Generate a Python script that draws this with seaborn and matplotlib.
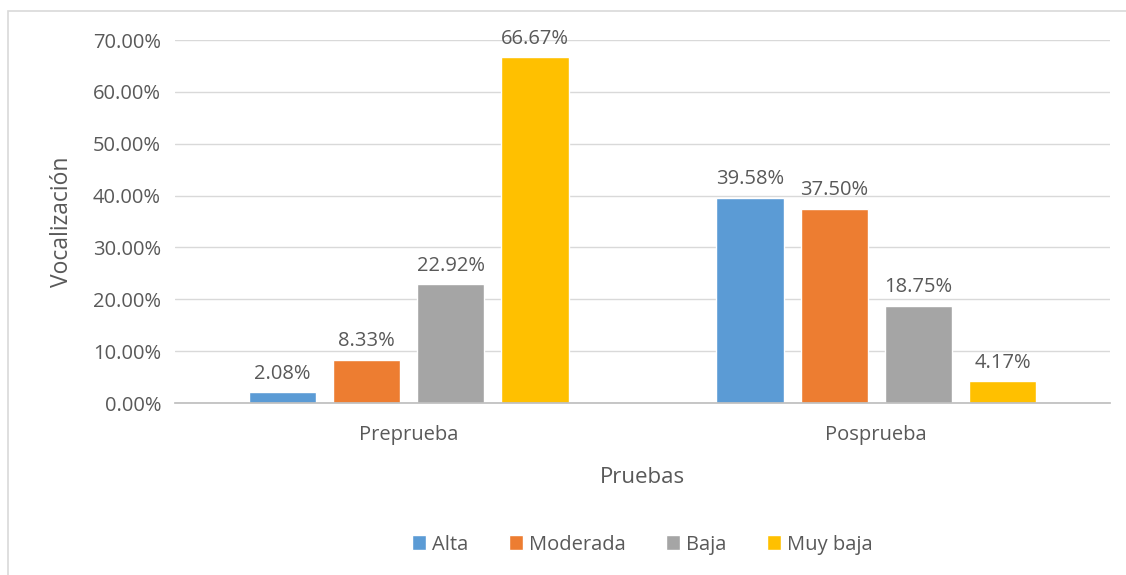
import pandas as pd
import matplotlib
matplotlib.use("Agg")
import matplotlib.pyplot as plt
import seaborn as sns
from matplotlib.patches import Rectangle
from matplotlib.ticker import PercentFormatter

# Data
pruebas = ["Preprueba", "Posprueba"]
niveles = ["Alta", "Moderada", "Baja", "Muy baja"]
preprueba = [2.08, 8.33, 22.92, 66.67]
posprueba = [39.58, 37.50, 18.75, 4.17]
colores = ["#5B9BD5", "#ED7D31", "#A5A5A5", "#FFC000"]

df = pd.DataFrame({
    "Pruebas": [p for p in pruebas for _ in niveles],
    "Nivel": niveles * 2,
    "Valor": preprueba + posprueba,
})

sns.set_theme(style="white")
plt.rcParams["font.family"] = ["Open Sans", "DejaVu Sans"]
txt = "#595959"

fig = plt.figure(figsize=(11.26, 5.75), dpi=100)
ax = fig.add_axes([0.1554, 0.2991, 0.8304, 0.6313])

sns.barplot(data=df, x="Pruebas", y="Valor", hue="Nivel", order=pruebas,
            hue_order=niveles, palette=colores, width=0.72, gap=0.2,
            saturation=1, ax=ax, legend=True)

for cont in ax.containers:
    ax.bar_label(cont, labels=[f"{v:.2f}%" for v in cont.datavalues],
                 padding=6, fontsize=14.5, color=txt)

ax.set_ylim(0, 70)
ax.set_yticks(range(0, 71, 10))
ax.yaxis.set_major_formatter(PercentFormatter(decimals=2))
ax.grid(axis="y", color="#D9D9D9", linewidth=1)
ax.set_axisbelow(True)
for s in ["top", "right", "left"]:
    ax.spines[s].set_visible(False)
ax.spines["bottom"].set_color("#BFBFBF")
ax.tick_params(axis="both", length=0, labelsize=14.5, colors=txt, pad=10)
ax.tick_params(axis="x", pad=16)
ax.set_xlabel("Pruebas", fontsize=16, color=txt, labelpad=16)
ax.set_ylabel("Vocalización", fontsize=16.5, color=txt, labelpad=14)

ax.legend(loc="center", bbox_to_anchor=(0.5, -0.39), ncol=4, frameon=False,
          fontsize=14.5, labelcolor=txt, handlelength=0.7, handleheight=0.7,
          handletextpad=0.3, columnspacing=2.0)

# chart border
fig.patches.append(Rectangle((8 / 1126, -0.01), 1.02, 1 - 11 / 575 + 0.01,
                             transform=fig.transFigure, fill=False,
                             edgecolor="#D9D9D9", linewidth=1.2))

fig.savefig("out.png", dpi=100)
